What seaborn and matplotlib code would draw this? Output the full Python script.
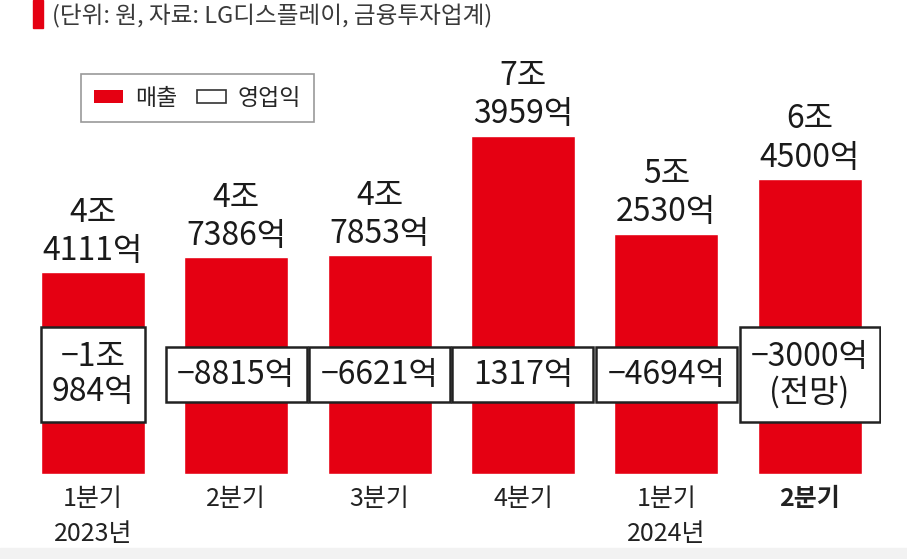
import matplotlib
matplotlib.use("Agg")
import matplotlib.pyplot as plt
from matplotlib.patches import Patch, Rectangle
import seaborn as sns
import pandas as pd

# LG Display quarterly results (unit: 100 million won = 억)
periods = ["2023Q1", "2023Q2", "2023Q3", "2023Q4", "2024Q1", "2024Q2"]
tick_labels = ["1분기\n2023년", "2분기", "3분기", "4분기", "1분기\n2024년", "2분기"]
revenue = [44111, 47386, 47853, 73959, 52530, 64500]
op_profit = [-10984, -8815, -6621, 1317, -4694, -3000]
op_note = ["", "", "", "", "", "(전망)"]

RED = "#e50012"
TEXT = "#1a1a1a"


def fmt_won(v):
    """Format 억 values as 'N조\\nM억' like the source graphic"""
    sign = "−" if v < 0 else ""
    v = abs(v)
    jo, eok = divmod(v, 10000)
    if jo > 0:
        return f"{sign}{jo}조\n{eok}억"
    return f"{sign}{eok}억"


df = pd.DataFrame({"period": periods, "revenue": [r / 10000 for r in revenue]})

sns.set_theme(style="white")
plt.rcParams["font.family"] = ["Noto Sans CJK KR", "DejaVu Sans"]

fig = plt.figure(figsize=(9.07, 5.59), dpi=100)
ax = fig.add_axes([21.3 / 907, 85 / 559, 860 / 907, 411.3 / 559])

sns.barplot(data=df, x="period", y="revenue", color=RED, saturation=1,
            width=0.726, ax=ax)
ax.set_ylim(0, 9)
ax.set_xlim(-0.5, len(periods) - 0.5)

# revenue labels above bars
for i, v in enumerate(revenue):
    ax.annotate(fmt_won(v), (i, v / 10000), xytext=(0, 4), textcoords="offset points",
                ha="center", va="bottom", fontsize=23, color=TEXT, linespacing=1.25)

# operating profit labels (boxes are drawn around them afterwards)
op_texts = []
for i, (v, note) in enumerate(zip(op_profit, op_note)):
    label = fmt_won(v)
    if note:
        label = label + "\n" + note
    t = ax.text(i, 2.17, label, ha="center", va="center", fontsize=23, color=TEXT,
                linespacing=1.13, zorder=4)
    op_texts.append(t)

ax.set_xticks(range(len(periods)))
ax.set_xticklabels(tick_labels, fontsize=18, color="#222222", linespacing=1.42)
ax.get_xticklabels()[-1].set_fontweight("bold")
ax.tick_params(axis="x", length=0, pad=9)
ax.set_yticks([])
ax.set_xlabel("")
ax.set_ylabel("")
sns.despine(ax=ax, left=True, bottom=True)

# white boxes around operating profit labels
fig.canvas.draw()
renderer = fig.canvas.get_renderer()
x0, y0 = ax.transData.transform((0, 0))
x1, y1 = ax.transData.transform((1, 1))
px_x, px_y = x1 - x0, y1 - y0
for t in op_texts:
    n_lines = t.get_text().count("\n") + 1
    bb = t.get_window_extent(renderer)
    w_px = bb.width + 22
    if n_lines == 1:
        # single-line boxes share one width, nearly touching their neighbours
        w_px = max(w_px, 0.984 * px_x)
    w = w_px / px_x
    h = (55 + 40 * (n_lines - 1)) / px_y
    cx, cy = t.get_position()
    ax.add_patch(Rectangle((cx - w / 2, cy - h / 2), w, h, facecolor="white",
                           edgecolor="#222222", linewidth=1.8, zorder=3))

# header
fig.patches.append(Rectangle((33 / 907, 1 - 28 / 559), 10 / 907, 28 / 559,
                             transform=fig.transFigure, color=RED, zorder=3))
fig.text(52 / 907, 1 - 16 / 559, "(단위: 원, 자료: LG디스플레이, 금융투자업계)",
         va="center", ha="left", fontsize=17, color="#3a3a3a")

# legend
handles = [Patch(facecolor=RED, edgecolor="none"),
           Patch(facecolor="white", edgecolor="#333333", linewidth=1.2)]
leg = fig.legend(handles, ["매출", "영업익"], loc="upper left",
                 bbox_to_anchor=(81 / 907, 1 - 74 / 559), borderaxespad=0,
                 ncol=2, frameon=True, fancybox=False, edgecolor="#999999",
                 framealpha=1, fontsize=16.5, handlelength=1.3, handleheight=0.55,
                 handletextpad=0.5, columnspacing=0.85, borderpad=0.55)
leg.get_frame().set_linewidth(1.2)

# light strip along the bottom edge
fig.patches.append(Rectangle((0, 0), 1, 11 / 559, transform=fig.transFigure,
                             color="#f2f2f2", zorder=0))

fig.savefig("out.png", dpi=100, facecolor="white")
